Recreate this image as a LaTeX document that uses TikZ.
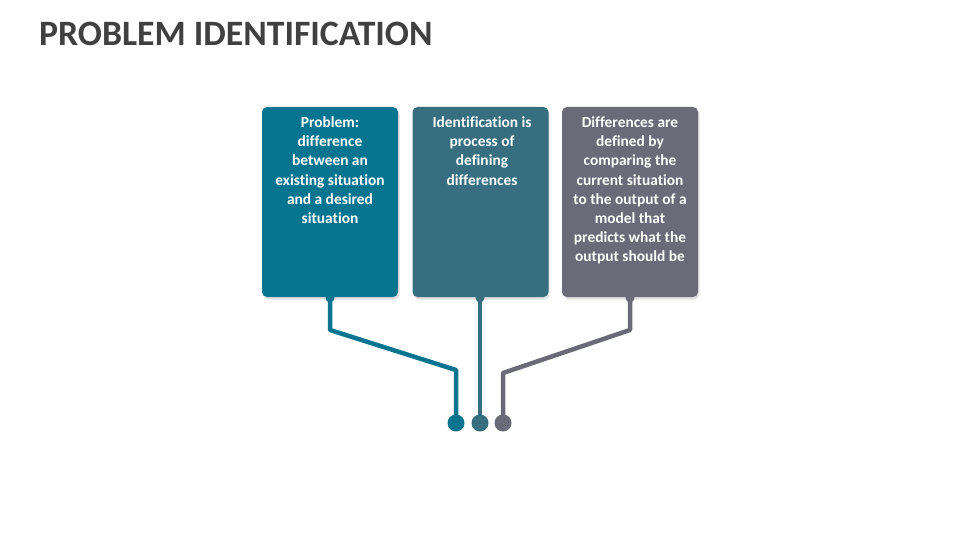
\documentclass[tikz,border=0pt]{standalone}
\usepackage{fontspec}
\setmainfont[Ligatures=CommonOff]{Carlito}
\definecolor{cA}{HTML}{077590}
\definecolor{cB}{HTML}{376F80}
\definecolor{cC}{HTML}{6B6A78}
\definecolor{titlec}{HTML}{404040}
\tikzset{
  card/.style={rounded corners=5pt, inner sep=0pt, minimum width=136pt, minimum height=190pt},
  cardtext/.style={text=white, font=\bfseries\fontsize{15.4}{19.2}\selectfont, align=center, inner sep=0pt, anchor=north},
  wire/.style={line width=4.5pt},
  dot/.style={circle, inner sep=0pt, minimum size=17pt},
  tab/.style={circle, inner sep=0pt, minimum size=9pt},
}
\begin{document}
\begin{tikzpicture}[x=1pt,y=-1pt]
\useasboundingbox (0,0) rectangle (960,540);
\node[anchor=base west, text=titlec, font=\bfseries\fontsize{35.7}{40}\selectfont, inner sep=0pt] (title) at (39,46) {PROBLEM IDENTIFICATION};
% shadows
\foreach \x in {330,480,630}{
  \fill[black!12, rounded corners=6pt] (\x-68+1.5,107+2) rectangle (\x+68+1.5,297+2.5);
}
\node[card, fill=cA] (b1) at (330,202) {};
\node[card, fill=cB] (b2) at (480.5,202) {};
\node[card, fill=cC] (b3) at (630,202) {};
\node[cardtext] (t1) at (330,116.5) {Problem:\\difference\\between an\\existing situation\\and a desired\\situation};
\node[cardtext] (t2) at (482,116.5) {Identification is\\process of\\defining\\differences};
\node[cardtext] (t3) at (630,116.5) {Differences are\\defined by\\comparing the\\current situation\\to the output of a\\model that\\predicts what the\\output should be};
% dots
\node[dot, fill=cA] (d1) at (456,423) {};
\node[dot, fill=cB] (d2) at (480,423) {};
\node[dot, fill=cC] (d3) at (503,423) {};
% tabs
\node[tab, fill=cA] (p1) at (330,298) {};
\node[tab, fill=cC] (p3) at (630,298) {};
\node[tab, fill=cB] (p2) at (480,298) {};
\coordinate (k1a) at (330,330);
\coordinate (k1b) at (456,370);
\coordinate (k3a) at (630,330);
\coordinate (k3b) at (503,373);
\draw[wire, cA, line join=round] (b1.south -| p1) -- (k1a) -- (k1b) -- (d1.center);
\draw[wire, cB] (b2.south -| p2) -- (d2.center);
\draw[wire, cC, line join=round] (b3.south -| p3) -- (k3a) -- (k3b) -- (d3.center);
\end{tikzpicture}
\end{document}
